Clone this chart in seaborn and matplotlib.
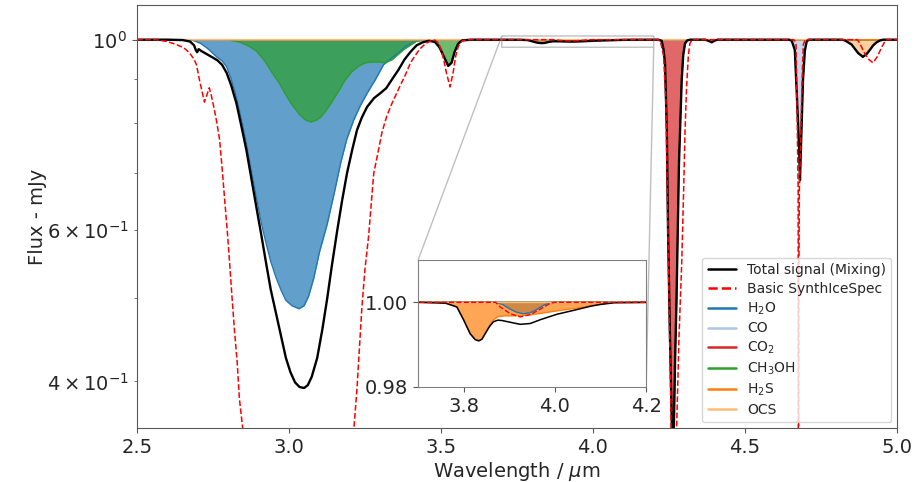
import matplotlib
matplotlib.use("Agg")
import matplotlib.pyplot as plt
import seaborn as sns

# ---- data (wavelength in micron, normalised flux) ----

# Total signal (mixing)
total_wl = [2.50, 2.60, 2.65, 2.675, 2.688, 2.694, 2.698, 2.703, 2.712, 2.73,
            2.75, 2.765, 2.78, 2.795, 2.81, 2.827, 2.843, 2.86, 2.876, 2.893,
            2.91, 2.925, 2.94, 2.958, 2.975, 2.99, 3.005, 3.02, 3.035, 3.05,
            3.062, 3.075, 3.093, 3.11, 3.126, 3.142, 3.159, 3.175, 3.191, 3.208,
            3.224, 3.24, 3.257, 3.28, 3.30, 3.32, 3.34, 3.36, 3.38, 3.40,
            3.42, 3.44, 3.46, 3.48, 3.495, 3.51, 3.524, 3.535, 3.545, 3.557,
            3.57, 3.60, 3.70, 3.76, 3.785, 3.80, 3.814, 3.825, 3.833, 3.84,
            3.847, 3.856, 3.865, 3.875, 3.884, 3.902, 3.924, 3.946, 3.968, 4.005,
            4.041, 4.079, 4.10, 4.13, 4.215, 4.226, 4.232, 4.237, 4.243, 4.247,
            4.253, 4.26, 4.263, 4.266, 4.27, 4.275, 4.283, 4.292, 4.297, 4.303,
            4.31, 4.32, 4.37, 4.383, 4.391, 4.399, 4.41, 4.645, 4.654, 4.664,
            4.671, 4.678, 4.681, 4.686, 4.691, 4.697, 4.703, 4.71, 4.82, 4.829,
            4.851, 4.872, 4.888, 4.90, 4.911, 4.922, 4.933, 4.945, 4.955, 5.00]
total_flux = [1.0, 1.0, 0.999, 0.995, 0.985, 0.972, 0.967, 0.975, 0.97, 0.962,
              0.953, 0.946, 0.935, 0.915, 0.885, 0.844, 0.795, 0.744, 0.69, 0.638,
              0.59, 0.549, 0.512, 0.479, 0.45, 0.426, 0.41, 0.399, 0.394, 0.393,
              0.396, 0.405, 0.426, 0.46, 0.50, 0.548, 0.60, 0.65, 0.699, 0.744,
              0.785, 0.812, 0.835, 0.855, 0.866, 0.878, 0.90, 0.922, 0.948, 0.968,
              0.985, 0.993, 0.997, 0.994, 0.98, 0.955, 0.932, 0.94, 0.968, 0.99,
              0.998, 1.0, 1.0, 0.9998, 0.9989, 0.9958, 0.9926, 0.9912, 0.9909, 0.9913,
              0.9926, 0.9942, 0.9954, 0.9958, 0.9957, 0.9953, 0.9948, 0.9950, 0.9959, 0.9972,
              0.9981, 0.9991, 0.9995, 0.9999, 1.0, 0.997, 0.975, 0.94, 0.785, 0.60,
              0.458, 0.35, 0.25, 0.35, 0.42, 0.50, 0.718, 0.898, 0.96, 0.99,
              0.998, 1.0, 1.0, 0.996, 0.993, 0.997, 1.0, 1.0, 0.997, 0.973,
              0.858, 0.75, 0.686, 0.785, 0.898, 0.97, 0.995, 1.0, 1.0, 0.998,
              0.987, 0.965, 0.955, 0.962, 0.973, 0.985, 0.993, 0.998, 1.0, 1.0]

# Basic SynthIceSpec
basic_wl = [2.50, 2.56, 2.60, 2.63, 2.655, 2.673, 2.687, 2.696, 2.705, 2.713,
            2.722, 2.73, 2.738, 2.745, 2.755, 2.763, 2.772, 2.78, 2.788, 2.797,
            2.805, 2.813, 2.821, 2.83, 2.837, 2.849, 2.87, 3.05, 3.19, 3.213,
            3.224, 3.24, 3.25, 3.262, 3.279, 3.295, 3.306, 3.322, 3.339, 3.36,
            3.383, 3.40, 3.415, 3.43, 3.45, 3.47, 3.48, 3.492, 3.501, 3.51,
            3.518, 3.53, 3.54, 3.548, 3.557, 3.57, 3.59, 3.87, 3.88, 3.902,
            3.924, 3.946, 3.968, 3.99, 4.00, 4.215, 4.222, 4.232, 4.24, 4.245,
            4.251, 4.256, 4.262, 4.271, 4.275, 4.283, 4.292, 4.298, 4.303, 4.308,
            4.314, 4.319, 4.326, 4.66, 4.664, 4.668, 4.671, 4.675, 4.676, 4.677,
            4.679, 4.684, 4.688, 4.692, 4.698, 4.87, 4.878, 4.89, 4.905, 4.921,
            4.935, 4.95, 4.96, 4.967, 5.00]
basic_flux = [1.0, 1.0, 0.995, 0.987, 0.978, 0.965, 0.95, 0.935, 0.90, 0.874,
              0.846, 0.862, 0.879, 0.86, 0.828, 0.80, 0.764, 0.71, 0.655, 0.60,
              0.549, 0.50, 0.458, 0.42, 0.382, 0.35, 0.30, 0.20, 0.30, 0.35,
              0.393, 0.488, 0.54, 0.59, 0.699, 0.745, 0.78, 0.815, 0.843, 0.875,
              0.91, 0.94, 0.958, 0.975, 0.99, 0.998, 0.999, 0.99, 0.973, 0.945,
              0.915, 0.881, 0.915, 0.955, 0.982, 0.997, 1.0, 1.0, 0.9989, 0.9973,
              0.99655, 0.9971, 0.9984, 0.9998, 1.0, 1.0, 0.995, 0.96, 0.85, 0.65,
              0.48, 0.38, 0.25, 0.30, 0.35, 0.45, 0.549, 0.66, 0.785, 0.88,
              0.96, 0.99, 1.0, 1.0, 0.997, 0.987, 0.85, 0.668, 0.20, 0.50,
              0.668, 0.785, 0.90, 0.987, 1.0, 1.0, 0.99, 0.97, 0.95, 0.94,
              0.955, 0.98, 0.995, 1.0, 1.0]

# individual ice components
h2o_wl = [2.50, 2.67, 2.685, 2.71, 2.735, 2.762, 2.78, 2.795, 2.81, 2.827,
          2.843, 2.86, 2.876, 2.893, 2.91, 2.925, 2.94, 2.958, 2.975, 2.99,
          3.01, 3.033, 3.05, 3.065, 3.082, 3.10, 3.126, 3.15, 3.17, 3.19,
          3.213, 3.235, 3.257, 3.284, 3.311, 3.338, 3.36, 3.383, 3.415, 3.45,
          3.87, 3.885, 3.90, 3.915, 3.93, 3.945, 3.96, 3.975, 3.99, 5.00]
h2o_flux = [1.0, 1.0, 0.998, 0.99, 0.975, 0.955, 0.945, 0.930, 0.90, 0.858,
            0.81, 0.758, 0.705, 0.655, 0.61, 0.579, 0.552, 0.528, 0.51, 0.497,
            0.49, 0.486, 0.49, 0.503, 0.528, 0.565, 0.61, 0.665, 0.718, 0.765,
            0.806, 0.838, 0.866, 0.898, 0.935, 0.952, 0.965, 0.982, 0.995, 1.0,
            1.0, 0.9995, 0.9985, 0.9977, 0.9973, 0.9975, 0.9983, 0.9993, 1.0, 1.0]

co_wl = [2.50, 4.65, 4.658, 4.666, 4.671, 4.676, 4.680, 4.683, 4.687, 4.692,
         4.697, 4.703, 4.71, 5.00]
co_flux = [1.0, 1.0, 0.995, 0.965, 0.87, 0.77, 0.70, 0.72, 0.82, 0.92,
           0.975, 0.997, 1.0, 1.0]

co2_wl = [2.50, 4.215, 4.226, 4.232, 4.237, 4.243, 4.247, 4.253, 4.26, 4.263,
          4.266, 4.27, 4.275, 4.283, 4.292, 4.297, 4.303, 4.31, 4.32, 4.37,
          4.383, 4.391, 4.399, 4.41, 5.00]
co2_flux = [1.0, 1.0, 0.997, 0.975, 0.94, 0.785, 0.60, 0.458, 0.35, 0.25,
            0.35, 0.42, 0.50, 0.718, 0.898, 0.96, 0.99, 0.998, 1.0, 1.0,
            0.996, 0.993, 0.997, 1.0, 1.0]

ch3oh_wl = [2.50, 2.80, 2.84, 2.87, 2.893, 2.92, 2.945, 2.968, 2.99, 3.01,
            3.035, 3.055, 3.072, 3.09, 3.105, 3.12, 3.14, 3.164, 3.185, 3.207,
            3.23, 3.252, 3.275, 3.295, 3.317, 3.34, 3.36, 3.38, 3.393, 3.42,
            3.44, 3.48, 3.495, 3.51, 3.524, 3.535, 3.545, 3.557, 3.57, 5.00]
ch3oh_flux = [1.0, 1.0, 0.993, 0.982, 0.97, 0.945, 0.915, 0.89, 0.862, 0.84,
              0.818, 0.806, 0.802, 0.806, 0.813, 0.825, 0.845, 0.872, 0.898, 0.918,
              0.932, 0.94, 0.942, 0.942, 0.94, 0.948, 0.962, 0.975, 0.982, 0.996,
              1.0, 1.0, 0.985, 0.958, 0.932, 0.942, 0.97, 0.99, 1.0, 1.0]

h2s_wl = [2.50, 3.75, 3.77, 3.785, 3.80, 3.814, 3.825, 3.833, 3.84, 3.847,
          3.856, 3.865, 3.875, 3.89, 3.91, 3.93, 3.95, 3.97, 4.005, 4.04,
          4.08, 4.10, 4.13, 5.00]
h2s_flux = [1.0, 1.0, 0.9996, 0.9989, 0.9958, 0.9926, 0.9912, 0.9909, 0.9913, 0.9926,
            0.9945, 0.9958, 0.9966, 0.9968, 0.9968, 0.9969, 0.9971, 0.9974, 0.998, 0.9985,
            0.9992, 0.9996, 1.0, 1.0]

ocs_wl = [2.50, 4.82, 4.829, 4.851, 4.872, 4.888, 4.90, 4.911, 4.922, 4.933,
          4.945, 4.955, 5.00]
ocs_flux = [1.0, 1.0, 0.998, 0.987, 0.965, 0.955, 0.962, 0.973, 0.985, 0.993,
            0.998, 1.0, 1.0]

components = [
    ("H$_2$O", h2o_wl, h2o_flux, "#1f77b4"),
    ("CO", co_wl, co_flux, "#aec7e8"),
    ("CO$_2$", co2_wl, co2_flux, "#d62728"),
    ("CH$_3$OH", ch3oh_wl, ch3oh_flux, "#2ca02c"),
    ("H$_2$S", h2s_wl, h2s_flux, "#ff7f0e"),
    ("OCS", ocs_wl, ocs_flux, "#ffbb78"),
]


def draw_spectra(ax, with_labels=True, lw_total=1.7, lw_basic=1.1):
    """fills first, then component lines, then total + basic on top"""
    for name, wl, flux, col in components:
        ax.fill_between(wl, flux, 1.0, color=col, alpha=0.7, lw=0)
    for name, wl, flux, col in components:
        sns.lineplot(x=wl, y=flux, ax=ax, color=col, lw=1.0,
                     label=name if with_labels else None,
                     estimator=None, sort=False)
    sns.lineplot(x=total_wl, y=total_flux, ax=ax, color="black", lw=lw_total,
                 label="Total signal (Mixing)" if with_labels else None,
                 estimator=None, sort=False)
    sns.lineplot(x=basic_wl, y=basic_flux, ax=ax, color="red", lw=lw_basic,
                 linestyle="--",
                 label="Basic SynthIceSpec" if with_labels else None,
                 estimator=None, sort=False)


sns.set_style("ticks")
plt.rcParams["font.family"] = ["DejaVu Sans"]

fig = plt.figure(figsize=(9.19, 4.82), dpi=100)
ax = fig.add_axes([0.149, 0.112, 0.827, 0.878])

ax.set_yscale("log")
draw_spectra(ax)
ax.set_xlim(2.5, 5.0)
ax.set_ylim(0.353, 1.098)
ax.set_xticks([2.5, 3.0, 3.5, 4.0, 4.5, 5.0])
ax.tick_params(axis="both", which="both", labelsize=14, color="0.35")
ax.set_xlabel("Wavelength / $\\mu$m", fontsize=14, labelpad=2)
ax.set_ylabel("Flux - mJy", fontsize=14, labelpad=0)
for sp in ax.spines.values():
    sp.set_color("0.35")

# legend in the original order: total, basic, then the components
handles, labels = ax.get_legend_handles_labels()
order = [6, 7, 0, 1, 2, 3, 4, 5]
leg = ax.legend([handles[i] for i in order], [labels[i] for i in order],
                loc="lower right", fontsize=10, framealpha=0.8,
                labelspacing=0.33, borderaxespad=0.4)
for line in leg.get_lines():
    line.set_linewidth(1.8)

# zoomed inset on the weak 3.7-4.2 micron features
axins = ax.inset_axes([0.37, 0.097, 0.30, 0.30])
draw_spectra(axins, with_labels=False, lw_total=1.1, lw_basic=1.0)
axins.set_xlim(3.7, 4.2)
axins.set_ylim(0.98, 1.01)
axins.set_xticks([3.8, 4.0, 4.2])
axins.set_yticks([0.98, 1.00])
axins.set_yticklabels(["0.98", "1.00"])
axins.tick_params(labelsize=14, color="0.35")
axins.set_xlabel("")
axins.set_ylabel("")
for sp in axins.spines.values():
    sp.set_color("gray")
ax.indicate_inset_zoom(axins, edgecolor="gray")

fig.savefig("out.png", dpi=100)
